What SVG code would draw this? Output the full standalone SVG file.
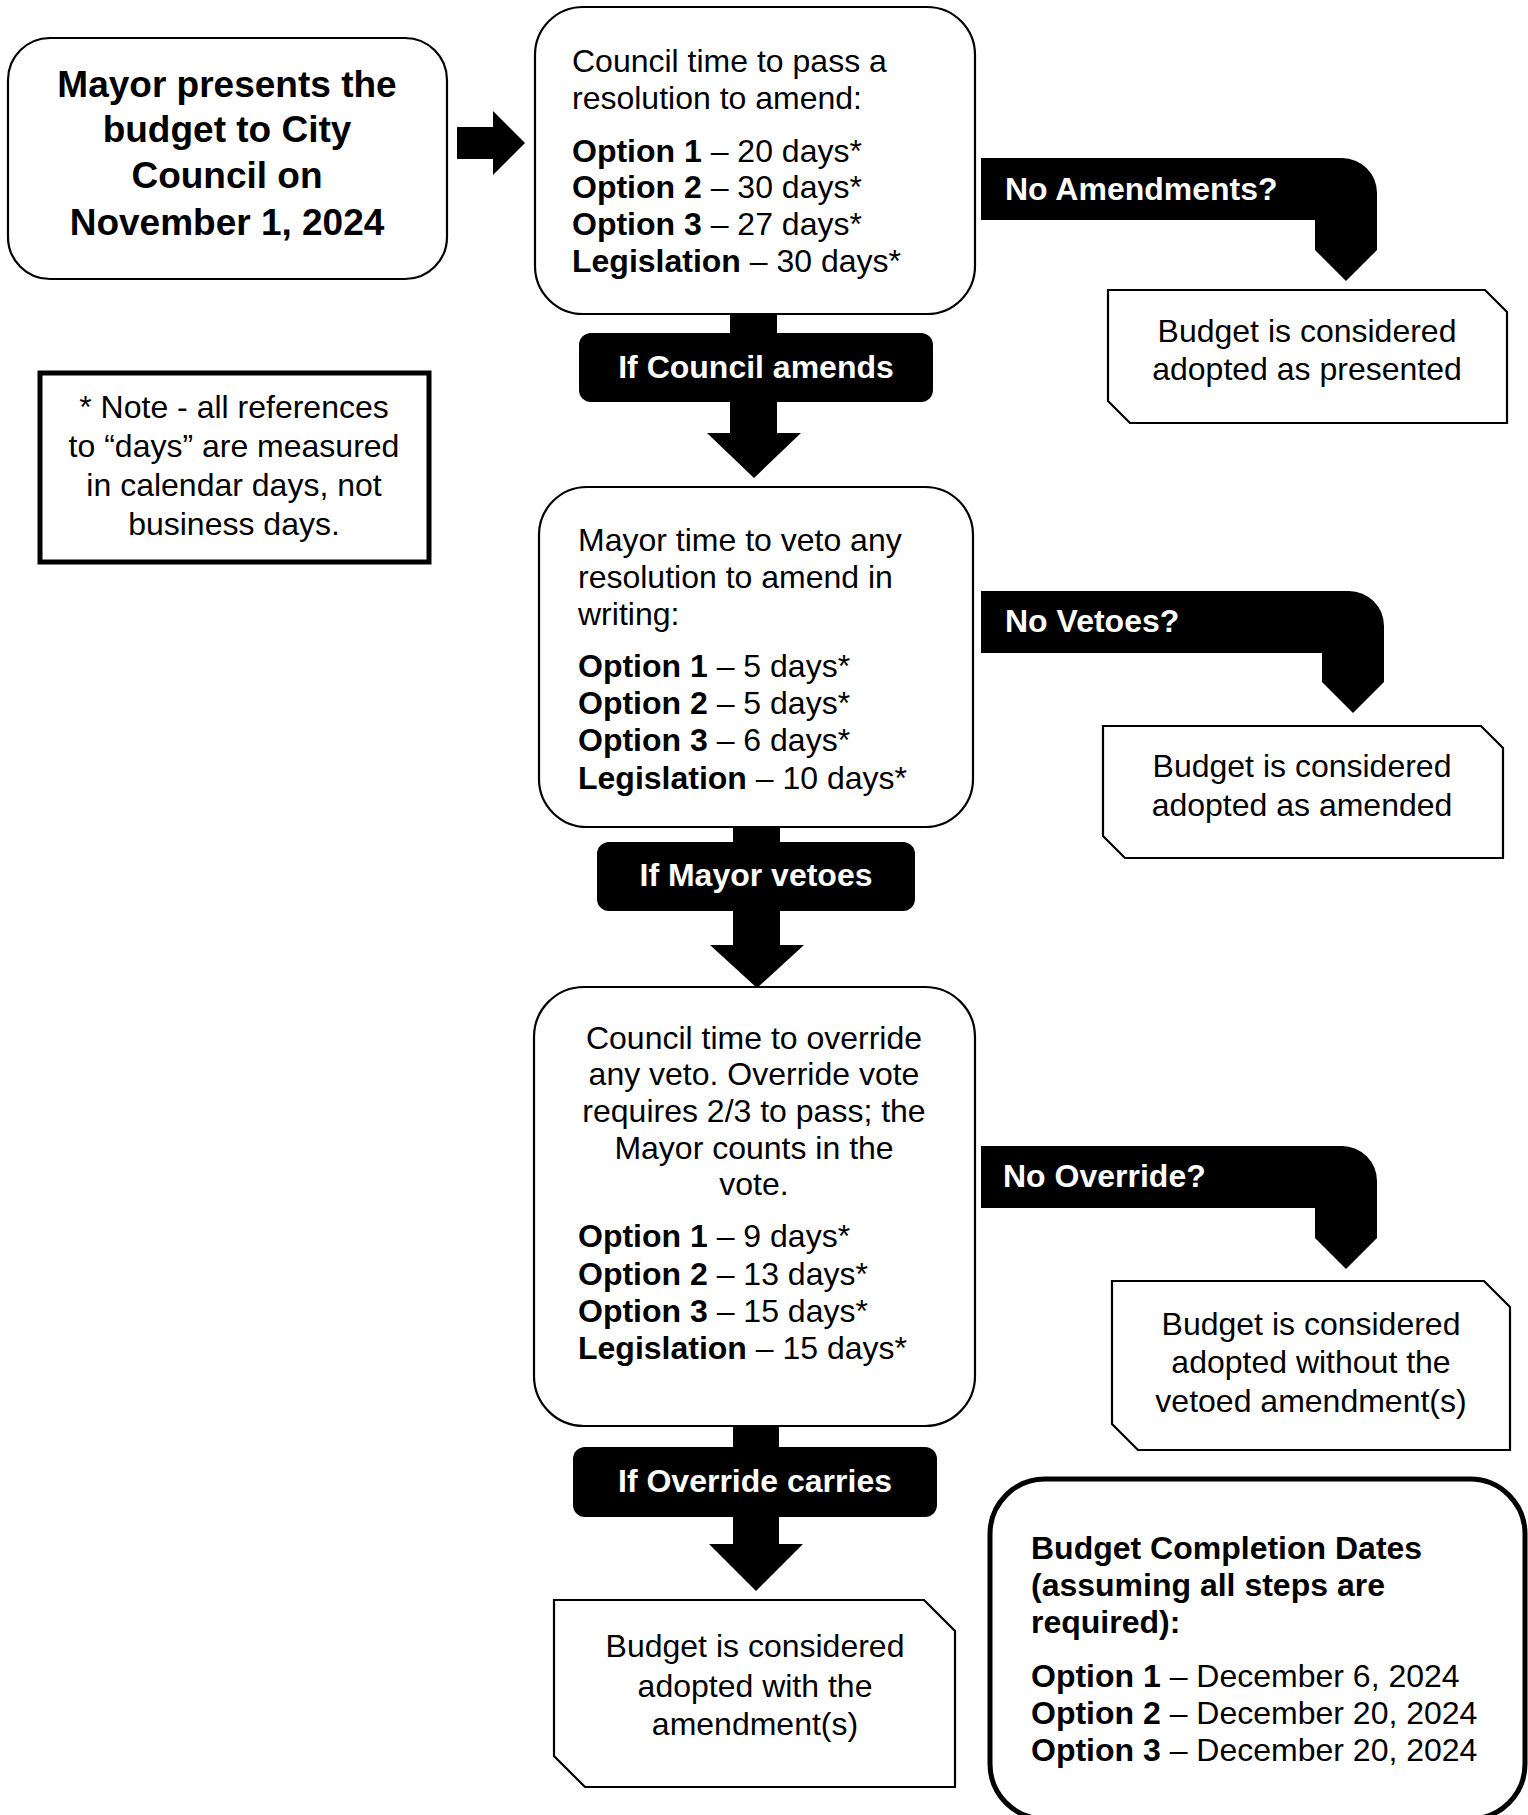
<svg xmlns="http://www.w3.org/2000/svg" width="1528" height="1815" viewBox="0 0 1528 1815">
<style>
text{font-family:"Liberation Sans",Arial,sans-serif;font-size:32px;fill:#000}
.b{font-weight:bold}
.w{fill:#fff;font-weight:bold}
.c{text-anchor:middle}
.box{fill:#fff;stroke:#000;stroke-width:2.2}
.thick{fill:#fff;stroke:#000;stroke-width:5}
.arr{fill:#000;stroke:none}
</style>
<rect width="1528" height="1815" fill="#fff"/>
<g id="connectors">
<path class="arr" d="M457,127 H493 V111 L525,143 L493,175 V159 H457 Z"/>
<path class="arr" d="M730,312 H777 V433 H801 L754,478 L707,433 H730 Z"/>
<path class="arr" d="M733,825 H780 V945 H804 L757,988 L710,945 H733 Z"/>
<path class="arr" d="M733,1424 H779 V1544 H803 L756,1591 L709,1544 H733 Z"/>
<path class="arr" d="M981,158 H1342 A35,35 0 0 1 1377,193 V250 L1346,281 L1315,250 V220 H981 Z"/>
<path class="arr" d="M981,591 H1349 A35,35 0 0 1 1384,626 V682 L1353,713 L1322,682 V653 H981 Z"/>
<path class="arr" d="M981,1146 H1342 A35,35 0 0 1 1377,1181 V1238 L1346,1269 L1315,1238 V1208 H981 Z"/>
<rect class="arr" x="579" y="333" width="354" height="69" rx="12"/>
<rect class="arr" x="597" y="842" width="318" height="69" rx="12"/>
<rect class="arr" x="573" y="1447" width="364" height="70" rx="12"/>
<text class="w c" x="756" y="378">If Council amends</text>
<text class="w c" x="756" y="886">If Mayor vetoes</text>
<text class="w c" x="755" y="1492">If Override carries</text>
<text class="w" x="1005" y="200">No Amendments?</text>
<text class="w" x="1005" y="632">No Vetoes?</text>
<text class="w" x="1003" y="1187">No Override?</text>
</g>
<g id="mayor-presents">
<rect class="box" x="8" y="38" width="439" height="241" rx="42"/>
<text class="b c" style="font-size:37px" x="227" y="97">Mayor presents the</text>
<text class="b c" style="font-size:37px" x="227" y="142">budget to City</text>
<text class="b c" style="font-size:37px" x="227" y="188">Council on</text>
<text class="b c" style="font-size:37px" x="227" y="235">November 1, 2024</text>
</g>
<g id="note">
<rect class="thick" x="40" y="373" width="389" height="189"/>
<text class="c" x="234" y="418">* Note - all references</text>
<text class="c" x="234" y="457">to “days” are measured</text>
<text class="c" x="234" y="496">in calendar days, not</text>
<text class="c" x="234" y="535">business days.</text>
</g>
<g id="council-amend">
<rect class="box" x="535" y="7" width="440" height="307" rx="48"/>
<text x="572" y="72">Council time to pass a</text>
<text x="572" y="109">resolution to amend:</text>
<text x="572" y="162"><tspan class="b">Option 1</tspan> – 20 days*</text>
<text x="572" y="198"><tspan class="b">Option 2</tspan> – 30 days*</text>
<text x="572" y="235"><tspan class="b">Option 3</tspan> – 27 days*</text>
<text x="572" y="272"><tspan class="b">Legislation</tspan> – 30 days*</text>
</g>
<g id="adopted-presented">
<path class="box" d="M1108,290 H1485 L1507,312 V423 H1130 L1108,401 Z"/>
<text class="c" x="1307" y="342">Budget is considered</text>
<text class="c" x="1307" y="380">adopted as presented</text>
</g>
<g id="mayor-veto">
<rect class="box" x="539" y="487" width="434" height="340" rx="48"/>
<text x="578" y="551">Mayor time to veto any</text>
<text x="578" y="588">resolution to amend in</text>
<text x="578" y="625">writing:</text>
<text x="578" y="677"><tspan class="b">Option 1</tspan> – 5 days*</text>
<text x="578" y="714"><tspan class="b">Option 2</tspan> – 5 days*</text>
<text x="578" y="751"><tspan class="b">Option 3</tspan> – 6 days*</text>
<text x="578" y="789"><tspan class="b">Legislation</tspan> – 10 days*</text>
</g>
<g id="adopted-amended">
<path class="box" d="M1103,726 H1481 L1503,748 V858 H1125 L1103,836 Z"/>
<text class="c" x="1302" y="777">Budget is considered</text>
<text class="c" x="1302" y="816">adopted as amended</text>
</g>
<g id="council-override">
<rect class="box" x="534" y="987" width="441" height="439" rx="50"/>
<text class="c" x="754" y="1049">Council time to override</text>
<text class="c" x="754" y="1085">any veto. Override vote</text>
<text class="c" x="754" y="1122">requires 2/3 to pass; the</text>
<text class="c" x="754" y="1159">Mayor counts in the</text>
<text class="c" x="754" y="1195">vote.</text>
<text x="578" y="1247"><tspan class="b">Option 1</tspan> – 9 days*</text>
<text x="578" y="1285"><tspan class="b">Option 2</tspan> – 13 days*</text>
<text x="578" y="1322"><tspan class="b">Option 3</tspan> – 15 days*</text>
<text x="578" y="1359"><tspan class="b">Legislation</tspan> – 15 days*</text>
</g>
<g id="adopted-without">
<path class="box" d="M1112,1281 H1484 L1510,1307 V1450 H1138 L1112,1424 Z"/>
<text class="c" x="1311" y="1335">Budget is considered</text>
<text class="c" x="1311" y="1373">adopted without the</text>
<text class="c" x="1311" y="1412">vetoed amendment(s)</text>
</g>
<g id="adopted-with">
<path class="box" d="M554,1600 H924 L955,1631 V1787 H585 L554,1756 Z"/>
<text class="c" x="755" y="1657">Budget is considered</text>
<text class="c" x="755" y="1697">adopted with the</text>
<text class="c" x="755" y="1735">amendment(s)</text>
</g>
<g id="completion-dates">
<rect class="thick" x="990" y="1479" width="535" height="340" rx="55"/>
<text class="b" x="1031" y="1559">Budget Completion Dates</text>
<text class="b" x="1031" y="1596">(assuming all steps are</text>
<text class="b" x="1031" y="1633">required):</text>
<text x="1031" y="1687"><tspan class="b">Option 1</tspan> – December 6, 2024</text>
<text x="1031" y="1724"><tspan class="b">Option 2</tspan> – December 20, 2024</text>
<text x="1031" y="1761"><tspan class="b">Option 3</tspan> – December 20, 2024</text>
</g>
</svg>
